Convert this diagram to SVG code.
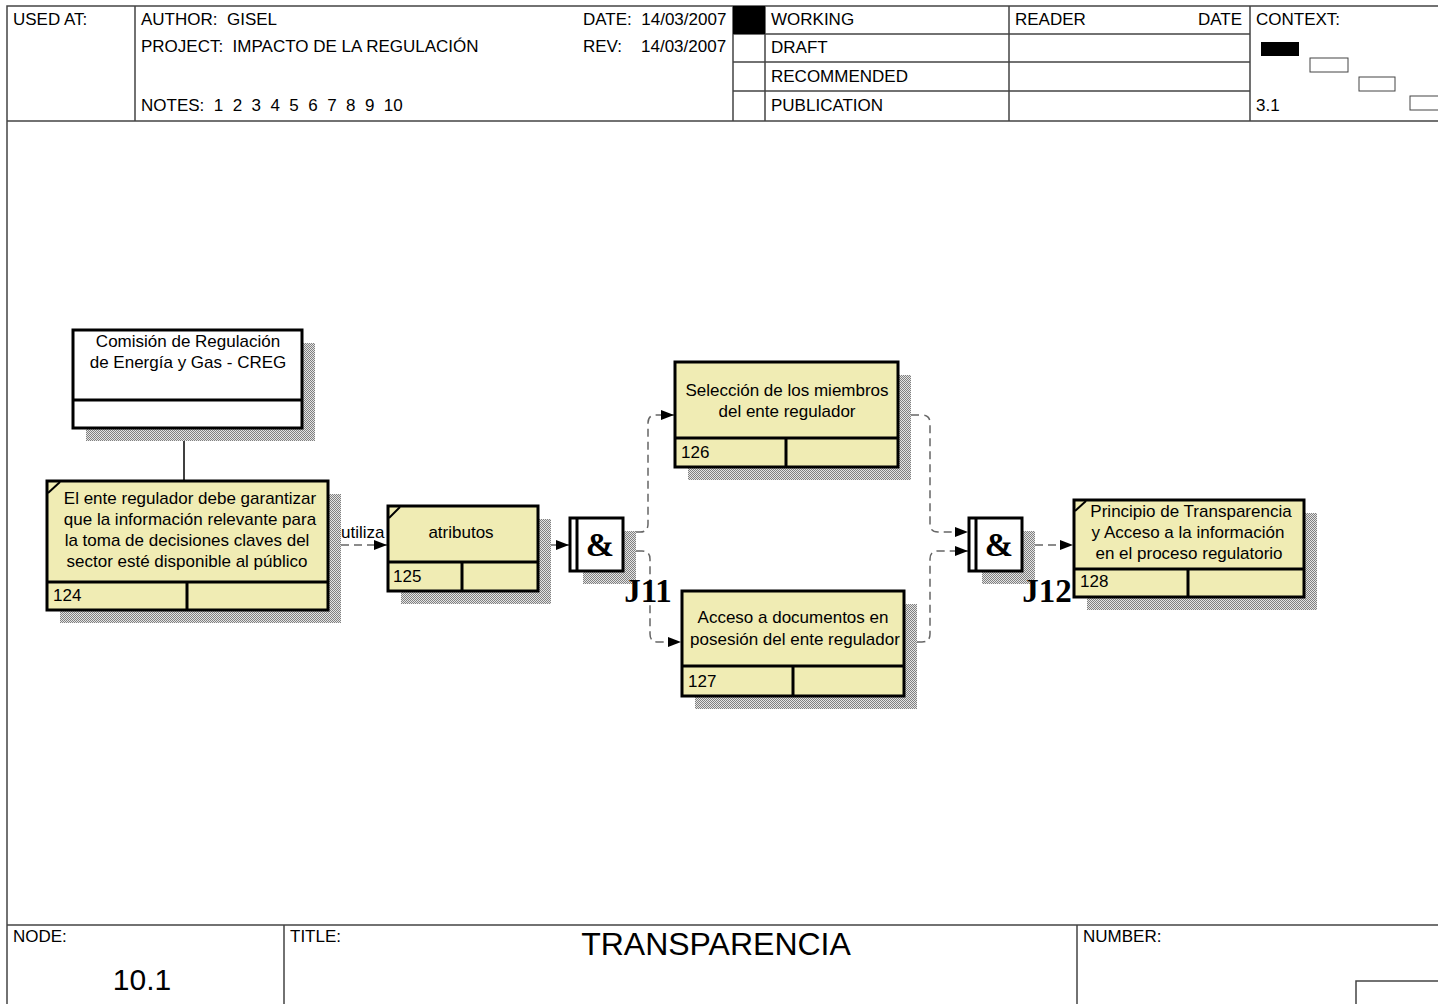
<svg xmlns="http://www.w3.org/2000/svg" width="1438" height="1004" viewBox="0 0 1438 1004">
<style>
text{font-family:"Liberation Sans",Arial,sans-serif;font-size:17px;fill:#000;white-space:pre}
.frame{stroke:#444;stroke-width:1.5;fill:none}
.box{fill:#F0ECB4;stroke:#000;stroke-width:3}
.wbox{fill:#fff;stroke:#000;stroke-width:3}
.div{stroke:#000;stroke-width:3;fill:none}
.shadow{fill:url(#hatch)}
.c{text-anchor:middle}
.conn{fill:none;stroke:#666;stroke-width:1.5;stroke-dasharray:8,5}
.j{font-family:"Liberation Serif","Times New Roman",serif;font-weight:bold}
</style>
<defs>
<pattern id="hatch" width="2" height="2" patternUnits="userSpaceOnUse">
<rect width="2" height="2" fill="#e4e4e4"/>
<rect width="1" height="1" fill="#808080"/>
<rect x="1" y="1" width="1" height="1" fill="#808080"/>
</pattern>
<marker id="arr" markerWidth="14" markerHeight="12" refX="13" refY="6" orient="auto" markerUnits="userSpaceOnUse">
<path d="M0,1 L13,6 L0,11 z" fill="#000"/>
</marker>
</defs>
<rect width="1438" height="1004" fill="#fff"/>

<g id="frame">
<path class="frame" d="M7,1004 V6 H1438 M7,121 H1438 M7,925 H1438"/>
<path class="frame" d="M135,6 V121 M733,6 V121 M765,6 V121 M1009,6 V121 M1250,6 V121"/>
<path class="frame" d="M733,34 H1250 M733,62 H1250 M733,91 H1250"/>
<rect x="733" y="6" width="32" height="28" fill="#000"/>
<path class="frame" d="M284,925 V1004 M1077,925 V1004 M1356,1004 V981 H1438"/>
<text x="13" y="25">USED AT:</text>
<text x="141" y="25">AUTHOR:  GISEL</text>
<text x="141" y="52">PROJECT:  IMPACTO DE LA REGULACIÓN</text>
<text x="141" y="111">NOTES:  1  2  3  4  5  6  7  8  9  10</text>
<text x="583" y="25">DATE:  14/03/2007</text>
<text x="583" y="52">REV:</text>
<text x="641" y="52">14/03/2007</text>
<text x="771" y="25">WORKING</text>
<text x="771" y="53">DRAFT</text>
<text x="771" y="82">RECOMMENDED</text>
<text x="771" y="111">PUBLICATION</text>
<text x="1015" y="25">READER</text>
<text x="1242" y="25" text-anchor="end">DATE</text>
<text x="1256" y="25">CONTEXT:</text>
<text x="1256" y="111">3.1</text>
<rect x="1261" y="42" width="38" height="14" fill="#000"/>
<rect x="1310" y="58" width="38" height="14" fill="#fff" stroke="#444" stroke-width="1"/>
<rect x="1359" y="77" width="36" height="14" fill="#fff" stroke="#444" stroke-width="1"/>
<rect x="1410" y="96" width="36" height="14" fill="#fff" stroke="#444" stroke-width="1"/>
<text x="13" y="942">NODE:</text>
<text x="290" y="942">TITLE:</text>
<text x="1083" y="942">NUMBER:</text>
<text x="716" y="955" class="c" style="font-size:32px">TRANSPARENCIA</text>
<text x="142" y="990" class="c" style="font-size:30px">10.1</text>
</g>

<g id="connectors">
<line x1="184" y1="428" x2="184" y2="481" stroke="#000" stroke-width="1.5"/>
<path class="conn" d="M328,545 H387" marker-end="url(#arr)"/>
<text x="341" y="538">utiliza</text>
<path class="conn" d="M538,545 H569" marker-end="url(#arr)"/>
<path class="conn" d="M623,532 H640 Q648,532 648,524 V423 Q648,415 656,415 H674" marker-end="url(#arr)"/>
<path class="conn" d="M623,551 H642 Q650,551 650,559 V634 Q650,642 658,642 H681" marker-end="url(#arr)"/>
<path class="conn" d="M898,415 H922 Q930,415 930,423 V524 Q930,532 938,532 H968" marker-end="url(#arr)"/>
<path class="conn" d="M904,642 H922 Q930,642 930,634 V559 Q930,551 938,551 H968" marker-end="url(#arr)"/>
<path class="conn" d="M1022,545 H1073" marker-end="url(#arr)"/>
</g>

<g id="node-creg">
<rect class="shadow" x="86" y="343" width="229" height="98"/>
<rect class="wbox" x="73" y="330" width="229" height="98"/>
<line class="div" x1="73" y1="400" x2="302" y2="400"/>
<text x="188" y="347" class="c">Comisión de Regulación</text>
<text x="188" y="368" class="c">de Energía y Gas - CREG</text>
</g>

<g id="node-124">
<rect class="shadow" x="60" y="494" width="281" height="129"/>
<rect class="box" x="47" y="481" width="281" height="129"/>
<path class="div" d="M47,582 H328 M187,582 V610"/>
<line x1="48" y1="493" x2="60" y2="482" stroke="#000" stroke-width="2"/>
<text x="190" y="504" class="c">El ente regulador debe garantizar</text>
<text x="190" y="525" class="c">que la información relevante para</text>
<text x="187" y="546" class="c">la toma de decisiones claves del</text>
<text x="187" y="567" class="c">sector esté disponible al público</text>
<text x="53" y="601">124</text>
</g>

<g id="node-125">
<rect class="shadow" x="401" y="519" width="150" height="85"/>
<rect class="box" x="388" y="506" width="150" height="85"/>
<path class="div" d="M388,562 H538 M462,562 V591"/>
<line x1="389" y1="518" x2="400" y2="507" stroke="#000" stroke-width="2"/>
<text x="461" y="538" class="c">atributos</text>
<text x="393" y="582">125</text>
</g>

<g id="junction-j11">
<rect class="shadow" x="583" y="531" width="53" height="53"/>
<rect class="wbox" x="570" y="518" width="53" height="53"/>
<line class="div" x1="577" y1="518" x2="577" y2="571"/>
<text x="600" y="556" class="c j" style="font-size:34px">&amp;</text>
<text x="648" y="602" class="c j" style="font-size:33px">J11</text>
</g>

<g id="node-126">
<rect class="shadow" x="688" y="375" width="223" height="105"/>
<rect class="box" x="675" y="362" width="223" height="105"/>
<path class="div" d="M675,438 H898 M786,438 V467"/>
<text x="787" y="396" class="c">Selección de los miembros</text>
<text x="787" y="417" class="c">del ente regulador</text>
<text x="681" y="458">126</text>
</g>

<g id="node-127">
<rect class="shadow" x="695" y="604" width="222" height="105"/>
<rect class="box" x="682" y="591" width="222" height="105"/>
<path class="div" d="M682,666 H904 M793,666 V696"/>
<text x="793" y="623" class="c">Acceso a documentos en</text>
<text x="795" y="645" class="c">posesión del ente regulador</text>
<text x="688" y="687">127</text>
</g>

<g id="junction-j12">
<rect class="shadow" x="982" y="531" width="53" height="53"/>
<rect class="wbox" x="969" y="518" width="53" height="53"/>
<line class="div" x1="976" y1="518" x2="976" y2="571"/>
<text x="999" y="556" class="c j" style="font-size:34px">&amp;</text>
<text x="1047" y="602" class="c j" style="font-size:33px">J12</text>
</g>

<g id="node-128">
<rect class="shadow" x="1087" y="513" width="230" height="97"/>
<rect class="box" x="1074" y="500" width="230" height="97"/>
<path class="div" d="M1074,569 H1304 M1188,569 V597"/>
<line x1="1075" y1="511" x2="1086" y2="501" stroke="#000" stroke-width="2"/>
<text x="1191" y="517" class="c">Principio de Transparencia</text>
<text x="1188" y="538" class="c">y Acceso a la información</text>
<text x="1189" y="559" class="c">en el proceso regulatorio</text>
<text x="1080" y="587">128</text>
</g>
</svg>
